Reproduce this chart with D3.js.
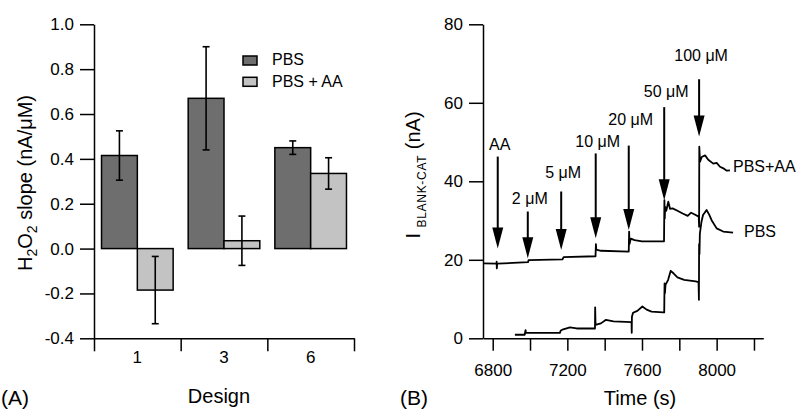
<!DOCTYPE html>
<html>
<head>
<meta charset="utf-8">
<script src="https://cdn.jsdelivr.net/npm/d3@7"></script>
<style>
body { margin: 0; background: #fff; }
svg { display: block; font-family: "Liberation Sans", Arial, sans-serif; }
.axis path, .axis line { stroke: #000; stroke-width: 1.5; }
.axis text { font-size: 17px; fill: #000; font-family: "Liberation Sans", Arial, sans-serif; }
</style>
</head>
<body>
<svg id="chart" width="799" height="410"></svg>
<script>
// panel A - slopes per design
var designs = ['1', '3', '6'];
var series = ['PBS', 'PBS + AA'];
var slope_pbs = [0.415, 0.67, 0.45];
var slope_pbs_aa = [-0.185, 0.035, 0.335];
var err_pbs = [0.11, 0.23, 0.03];
var err_pbs_aa = [0.15, 0.11, 0.07];
var slope_ticks = [-0.4, -0.2, 0, 0.2, 0.4, 0.6, 0.8, 1.0];
var bar_colors = ['#6e6e6e', '#c3c3c3'];

// panel B - current traces [time s, nA]
var trace_pbs_aa = [[6750,19.1],[6820,19.0],[6821,19.5],[6822,17.8],[6824,19.0],[6990,19.4],[6992,19.9],
  [7174,20.1],[7180,20.7],[7351,20.9],[7353,24.0],[7355,22.6],[7380,22.3],[7529,22.1],[7531,27.2],
  [7533,24.0],[7540,25.4],[7560,25.0],[7600,24.7],[7718,24.7],[7720,35.2],[7722,30.5],[7724,33.5],
  [7730,32.5],[7741,34.8],[7750,33.0],[7764,33.1],[7790,32.5],[7818,31.8],[7845,31.2],[7863,32.0],
  [7880,31.6],[7904,31.0],[7906,28.4],[7907,48.8],[7911,45.0],[7920,46.2],[7938,46.6],[7955,45.5],
  [7982,44.5],[8000,44.7],[8018,43.7],[8036,43.3],[8054,42.7],[8071,42.8]];
var trace_pbs = [[6919,0.9],[6972,0.9],[6973,1.4],[6976,2.1],[6978,1.4],[7160,1.4],[7165,2.0],[7178,2.3],
  [7214,2.8],[7250,2.5],[7348,2.5],[7349,7.9],[7351,3.4],[7380,3.8],[7407,4.7],[7447,4.3],[7544,4.1],
  [7545,1.4],[7546,5.5],[7552,6.5],[7575,7.0],[7602,8.1],[7625,7.3],[7651,6.8],[7713,6.6],[7719,6.6],
  [7720,10.8],[7721,14.0],[7723,11.5],[7726,13.6],[7740,14.9],[7754,17.2],[7770,16.5],[7790,15.5],
  [7826,14.9],[7888,14.5],[7903,14.3],[7905,9.8],[7906,24.0],[7908,21.5],[7910,26.6],[7918,29.5],
  [7927,31.4],[7946,32.7],[7960,31.5],[7973,30.1],[8000,28.0],[8035,27.2],[8088,26.9]];
var time_ticks = [6800, 7000, 7200, 7400, 7600, 7800, 8000, 8200];
var current_ticks = [0, 20, 40, 60, 80];
var arrow_labels = ['AA', '2 μM', '5 μM', '10 μM', '20 μM', '50 μM', '100 μM'];
var arrow_times = [6827, 6988, 7167, 7352, 7529, 7719, 7906];
var arrow_tail = [46.3, 32.3, 37.4, 47.1, 49.1, 58.9, 66.0];
var arrow_tip = [22.9, 20.4, 22.5, 25.5, 27.6, 35.2, 51.4];
var arrow_label_at = [48.0, 34.2, 40.8, 48.8, 54.3, 61.4, 70.7];

var svg = d3.select('#chart');

function draw_panel_a() {
    var y = d3.scaleLinear().domain([-0.4, 1.0]).range([338.3, 24.3]);
    var x = d3.scaleBand().domain(designs).range([94, 354]);
    var x_sub = d3.scaleBand().domain(series).range([0, x.bandwidth()]).paddingOuter(0.21);
    var values = [slope_pbs, slope_pbs_aa];
    var errors = [err_pbs, err_pbs_aa];
    var g = svg.append('g');
    designs.forEach(function (d, i) {
        series.forEach(function (s, j) {
            var v = values[j][i], e = errors[j][i];
            var x0 = x(d) + x_sub(s), cx = x0 + x_sub.bandwidth() / 2;
            g.append('rect').attr('x', x0).attr('y', y(Math.max(0, v)))
                .attr('width', x_sub.bandwidth()).attr('height', Math.abs(y(v) - y(0)))
                .attr('fill', bar_colors[j]).attr('stroke', '#000').attr('stroke-width', 1.5);
            g.append('line').attr('x1', cx).attr('x2', cx).attr('y1', y(v - e)).attr('y2', y(v + e))
                .attr('stroke', '#000').attr('stroke-width', 1.6);
            [v - e, v + e].forEach(function (c) {
                g.append('line').attr('x1', cx - 3.5).attr('x2', cx + 3.5).attr('y1', y(c)).attr('y2', y(c))
                    .attr('stroke', '#000').attr('stroke-width', 1.6);
            });
        });
    });
    svg.append('g').attr('class', 'axis').attr('transform', 'translate(94,0)')
        .call(d3.axisLeft(y).tickValues(slope_ticks).tickFormat(function (d) { return d.toFixed(1); })
            .tickSize(14).tickPadding(6).tickSizeOuter(0));
    var x_edge = d3.scaleLinear().domain([0, designs.length]).range(x.range());
    svg.append('g').attr('class', 'axis').attr('transform', 'translate(0,338.3)')
        .call(d3.axisBottom(x_edge).tickValues(d3.range(0, designs.length + 1)).tickFormat('').tickSize(13).tickSizeOuter(0));
    var lab = svg.append('g').attr('class', 'axis').attr('transform', 'translate(0,338.3)')
        .call(d3.axisBottom(x).tickSize(0).tickPadding(13));
    lab.select('.domain').remove();

    // legend
    var leg = svg.append('g').attr('transform', 'translate(243,56)');
    series.forEach(function (s, j) {
        leg.append('rect').attr('x', 0).attr('y', j * 21.3).attr('width', 14).attr('height', 9)
            .attr('fill', bar_colors[j]).attr('stroke', '#000').attr('stroke-width', 1.5);
        leg.append('text').attr('x', 29).attr('y', j * 21.3 + 9.3).attr('font-size', 16).text(s);
    });

    var t = svg.append('text').attr('transform', 'translate(31.5,183) rotate(-90)')
        .attr('text-anchor', 'middle').attr('font-size', 20);
    t.append('tspan').text('H');
    t.append('tspan').attr('dy', 5).attr('font-size', 14).text('2');
    t.append('tspan').attr('dy', -5).text('O');
    t.append('tspan').attr('dy', 5).attr('font-size', 14).text('2');
    t.append('tspan').attr('dy', -5).text(' slope (nA/μM)');
    svg.append('text').attr('x', 219).attr('y', 403).attr('text-anchor', 'middle').attr('font-size', 20).text('Design');
    svg.append('text').attr('x', 1).attr('y', 405).attr('font-size', 21).text('(A)');
}

function draw_panel_b() {
    var x = d3.scaleLinear().domain([6748, 8250]).range([483, 763.3]);
    var y = d3.scaleLinear().domain([0, 80]).range([338.3, 24.3]);
    svg.append('g').attr('class', 'axis').attr('transform', 'translate(483,0)')
        .call(d3.axisLeft(y).tickValues(current_ticks).tickSize(14).tickPadding(6).tickSizeOuter(0));
    svg.append('g').attr('class', 'axis').attr('transform', 'translate(0,338.3)')
        .call(d3.axisBottom(x).tickValues(time_ticks).tickFormat(function (d) { return d % 400 === 0 ? d : ''; })
            .tickSize(12.4).tickPadding(13).tickSizeOuter(0));

    var line = d3.line().x(function (d) { return x(d[0]); }).y(function (d) { return y(d[1]); });
    [trace_pbs_aa, trace_pbs].forEach(function (tr) {
        svg.append('path').datum(tr).attr('d', line).attr('fill', 'none')
            .attr('stroke', '#000').attr('stroke-width', 1.8).attr('stroke-linejoin', 'round');
    });

    var head = 21, half = 5.5;
    arrow_times.forEach(function (tm, i) {
        var ax = x(tm), ytip = y(arrow_tip[i]);
        svg.append('line').attr('x1', ax).attr('x2', ax).attr('y1', y(arrow_tail[i])).attr('y2', ytip - head + 2)
            .attr('stroke', '#000').attr('stroke-width', 2);
        svg.append('path').attr('d', 'M' + (ax - half) + ',' + (ytip - head) + 'L' + (ax + half) + ',' + (ytip - head) + 'L' + ax + ',' + ytip + 'Z')
            .attr('fill', '#000');
        svg.append('text').attr('x', ax + 2).attr('y', y(arrow_label_at[i])).attr('text-anchor', 'middle')
            .attr('font-size', 16).text(arrow_labels[i]);
    });

    svg.append('text').attr('x', 733).attr('y', 171.7).attr('font-size', 16).text('PBS+AA');
    svg.append('text').attr('x', 744).attr('y', 237.3).attr('font-size', 16).text('PBS');

    var t = svg.append('text').attr('transform', 'translate(420,175) rotate(-90)')
        .attr('text-anchor', 'middle').attr('font-size', 20);
    t.append('tspan').text('I ');
    t.append('tspan').attr('dy', 6).attr('font-size', 12).attr('letter-spacing', 0.7).text('BLANK-CAT');
    t.append('tspan').attr('dy', -6).text(' (nA)');
    svg.append('text').attr('x', 640).attr('y', 405).attr('text-anchor', 'middle').attr('font-size', 20).text('Time (s)');
    svg.append('text').attr('x', 400).attr('y', 405).attr('font-size', 21).text('(B)');
}

draw_panel_a();
draw_panel_b();
</script>
</body>
</html>
